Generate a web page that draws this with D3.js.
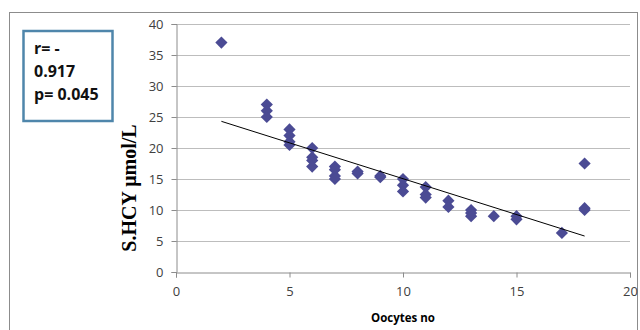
<!DOCTYPE html>
<html>
<head>
<meta charset="utf-8">
<script src="https://cdn.jsdelivr.net/npm/d3@7"></script>
<style>
  body { margin: 0; background: #fff; }
  svg { display: block; }
</style>
</head>
<body>
<div id="chart"></div>
<script>
// data
const oocytes = [2, 4, 4, 4, 5, 5, 5, 5, 6, 6, 6, 6, 7, 7, 7, 7, 8, 8, 9, 9,
  10, 10, 10, 11, 11, 11, 12, 12, 13, 13, 13, 14, 15, 15, 17, 18, 18, 18];
const hcy = [37, 27, 26, 25, 23, 22, 21, 20.5, 20, 18.5, 18, 17, 17, 16.5, 15.5, 15, 16.2, 15.9, 15.5, 15.3,
  15, 14, 13, 13.7, 12.5, 12, 11.5, 10.5, 10, 9.5, 9, 9, 9, 8.5, 6.3, 17.5, 10.3, 10];
const trendX = [2, 18];
const trendY = [24.3, 5.8];
const xTicks = [0, 5, 10, 15, 20];
const yTicks = [0, 5, 10, 15, 20, 25, 30, 35, 40];
const statLines = ['r= -', '0.917', 'p= 0.045'];

const width = 640, height = 330;
const plot = { left: 176, right: 630, top: 24, bottom: 272 };

const svg = d3.select('#chart').append('svg')
  .attr('width', width)
  .attr('height', height);

// outer chart border
svg.append('rect')
  .attr('x', 9.5).attr('y', 12.5)
  .attr('width', 628).attr('height', 330)
  .attr('fill', 'none')
  .attr('stroke', '#8c8c8c')
  .attr('stroke-width', 1);

const x = d3.scaleLinear().domain([0, 20]).range([plot.left, plot.right]);
const y = d3.scaleLinear().domain([0, 40]).range([plot.bottom, plot.top]);

// gridlines
svg.append('g')
  .selectAll('line')
  .data(yTicks.filter(d => d > 0))
  .enter().append('line')
  .attr('x1', plot.left).attr('x2', plot.right)
  .attr('y1', d => Math.round(y(d)) + 0.5)
  .attr('y2', d => Math.round(y(d)) + 0.5)
  .attr('stroke', '#bdbdbd')
  .attr('stroke-width', 1);

// axes
const yAxis = svg.append('g')
  .attr('transform', `translate(${plot.left + 0.5},0)`)
  .call(d3.axisLeft(y).tickValues(yTicks).tickSize(5).tickPadding(8));
const xAxis = svg.append('g')
  .attr('transform', `translate(0,${plot.bottom + 0.5})`)
  .call(d3.axisBottom(x).tickValues(xTicks).tickSize(5).tickPadding(9));

[xAxis, yAxis].forEach(g => {
  g.select('.domain').attr('stroke', '#8c8c8c');
  g.selectAll('.tick line').attr('stroke', '#8c8c8c');
  g.selectAll('.tick text')
    .attr('fill', '#404040')
    .style('font-family', 'Open Sans, sans-serif')
    .style('font-size', '13px');
});

// points
const diamond = d3.symbol().type(d3.symbolDiamond2).size(95);
svg.append('g')
  .selectAll('path')
  .data(oocytes.map((d, i) => [d, hcy[i]]))
  .enter().append('path')
  .attr('d', diamond)
  .attr('transform', d => `translate(${x(d[0])},${y(d[1])})`)
  .attr('fill', '#4b4b94');

// trend line
svg.append('line')
  .attr('x1', x(trendX[0])).attr('y1', y(trendY[0]))
  .attr('x2', x(trendX[1])).attr('y2', y(trendY[1]))
  .attr('stroke', '#000')
  .attr('stroke-width', 1);

// axis titles
svg.append('text')
  .attr('x', 403).attr('y', 322)
  .attr('text-anchor', 'middle')
  .style('font-family', 'Open Sans, sans-serif')
  .style('font-size', '11.5px')
  .style('font-weight', 'bold')
  .text('Oocytes no');

svg.append('text')
  .attr('transform', 'translate(136,188) rotate(-90)')
  .attr('text-anchor', 'middle')
  .style('font-family', 'Liberation Serif, serif')
  .style('font-size', '20px')
  .style('font-weight', 'bold')
  .text('S.HCY μmol/L');

// stats box
svg.append('rect')
  .attr('x', 23.5).attr('y', 31)
  .attr('width', 89).attr('height', 90)
  .attr('fill', '#fff')
  .attr('stroke', '#4f86ab')
  .attr('stroke-width', 2.5);

svg.append('g')
  .selectAll('text')
  .data(statLines)
  .enter().append('text')
  .attr('x', 34)
  .attr('y', (d, i) => 54 + i * 23)
  .style('font-family', 'Open Sans, sans-serif')
  .style('font-size', '16px')
  .style('font-weight', 'bold')
  .attr('fill', '#111')
  .text(d => d);
</script>
</body>
</html>
